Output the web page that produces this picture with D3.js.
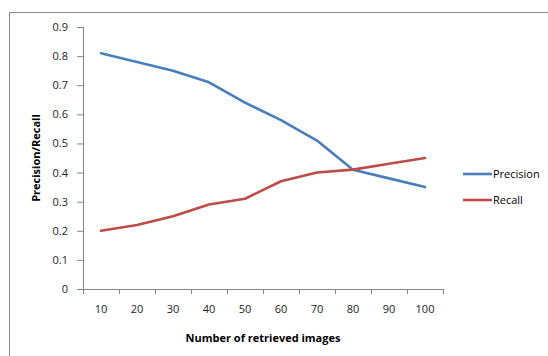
<!DOCTYPE html>
<html>
<head>
<meta charset="utf-8">
<script src="https://cdn.jsdelivr.net/npm/d3@7"></script>
<style>
  html, body { margin: 0; padding: 0; background: #fff; overflow: hidden; }
  svg { display: block; }
  text { font-family: "Open Sans", "DejaVu Sans", sans-serif; fill: #000; }
  .tick text { font-size: 11px; fill: #222; }
  .title { font-size: 11px; font-weight: bold; }
  .legend { font-size: 11px; }
</style>
</head>
<body>
<div id="chart"></div>
<script>
const categories = [10, 20, 30, 40, 50, 60, 70, 80, 90, 100];
const precision = [0.81, 0.78, 0.75, 0.71, 0.64, 0.58, 0.51, 0.41, 0.38, 0.35];
const recall = [0.20, 0.22, 0.25, 0.29, 0.31, 0.37, 0.40, 0.41, 0.43, 0.45];
const yTicks = [0, 0.1, 0.2, 0.3, 0.4, 0.5, 0.6, 0.7, 0.8, 0.9];

const series = [
    {name: "Precision", values: precision, color: "#4a7ebb"},
    {name: "Recall", values: recall, color: "#be4b48"}
];

const outerWidth = 548, outerHeight = 356;
const margin = {left: 83, right: 105, top: 27, bottom: 67};
const innerWidth = outerWidth - margin.left - margin.right;
const innerHeight = outerHeight - margin.top - margin.bottom;

const svg = d3.select("#chart").append("svg")
    .attr("width", outerWidth)
    .attr("height", outerHeight);

// chart area frame (only left and top edges are inside the picture)
svg.append("path")
    .attr("d", "M9.5," + outerHeight + "V12.5H" + outerWidth)
    .attr("fill", "none")
    .attr("stroke", "#868686");

const g = svg.append("g")
    .attr("transform", "translate(" + margin.left + "," + margin.top + ")");

const x = d3.scaleBand()
    .domain(categories)
    .range([0, innerWidth]);

const y = d3.scaleLinear()
    .domain([0, 0.9])
    .range([innerHeight, 0]);

const xAxis = g.append("g")
    .attr("transform", "translate(0," + innerHeight + ")")
    .call(d3.axisBottom(x).tickSize(0).tickPadding(16));
xAxis.select(".domain").attr("stroke", "#868686");
// tick marks on band edges
xAxis.selectAll(".edge")
    .data(d3.range(categories.length + 1))
    .enter().append("line")
    .attr("x1", i => i * x.bandwidth() + 0.5)
    .attr("x2", i => i * x.bandwidth() + 0.5)
    .attr("y1", 0).attr("y2", 5)
    .attr("stroke", "#868686");

const yAxis = g.append("g")
    .call(d3.axisLeft(y).tickValues(yTicks).tickFormat(d => d === 0 ? "0" : d3.format(".1f")(d)).tickSize(6).tickPadding(9));
yAxis.select(".domain").attr("d", "M0.5," + innerHeight + "V0").attr("stroke", "#868686");
yAxis.selectAll(".tick line").attr("stroke", "#868686");

const line = d3.line()
    .x((d, i) => x(categories[i]) + x.bandwidth() / 2)
    .y(d => y(d));

g.selectAll(".series")
    .data(series)
    .enter().append("path")
    .attr("d", d => line(d.values))
    .attr("fill", "none")
    .attr("stroke", d => d.color)
    .attr("stroke-width", 2.6)
    .attr("stroke-linejoin", "round")
    .attr("stroke-linecap", "round");

// axis titles
svg.append("text")
    .attr("class", "title")
    .attr("x", margin.left + innerWidth / 2)
    .attr("y", 342)
    .attr("text-anchor", "middle")
    .text("Number of retrieved images");

svg.append("text")
    .attr("class", "title")
    .attr("transform", "translate(40," + (margin.top + innerHeight / 2) + ") rotate(-90)")
    .attr("text-anchor", "middle")
    .text("Precision/Recall");

// legend
const legend = svg.selectAll(".legend-item")
    .data(series)
    .enter().append("g")
    .attr("transform", (d, i) => "translate(463," + (174 + i * 26) + ")");

legend.append("line")
    .attr("x1", 0).attr("x2", 29)
    .attr("stroke", d => d.color)
    .attr("stroke-width", 2.6);

legend.append("text")
    .attr("class", "legend")
    .attr("x", 30)
    .attr("dy", "0.35em")
    .text(d => d.name);
</script>
</body>
</html>
